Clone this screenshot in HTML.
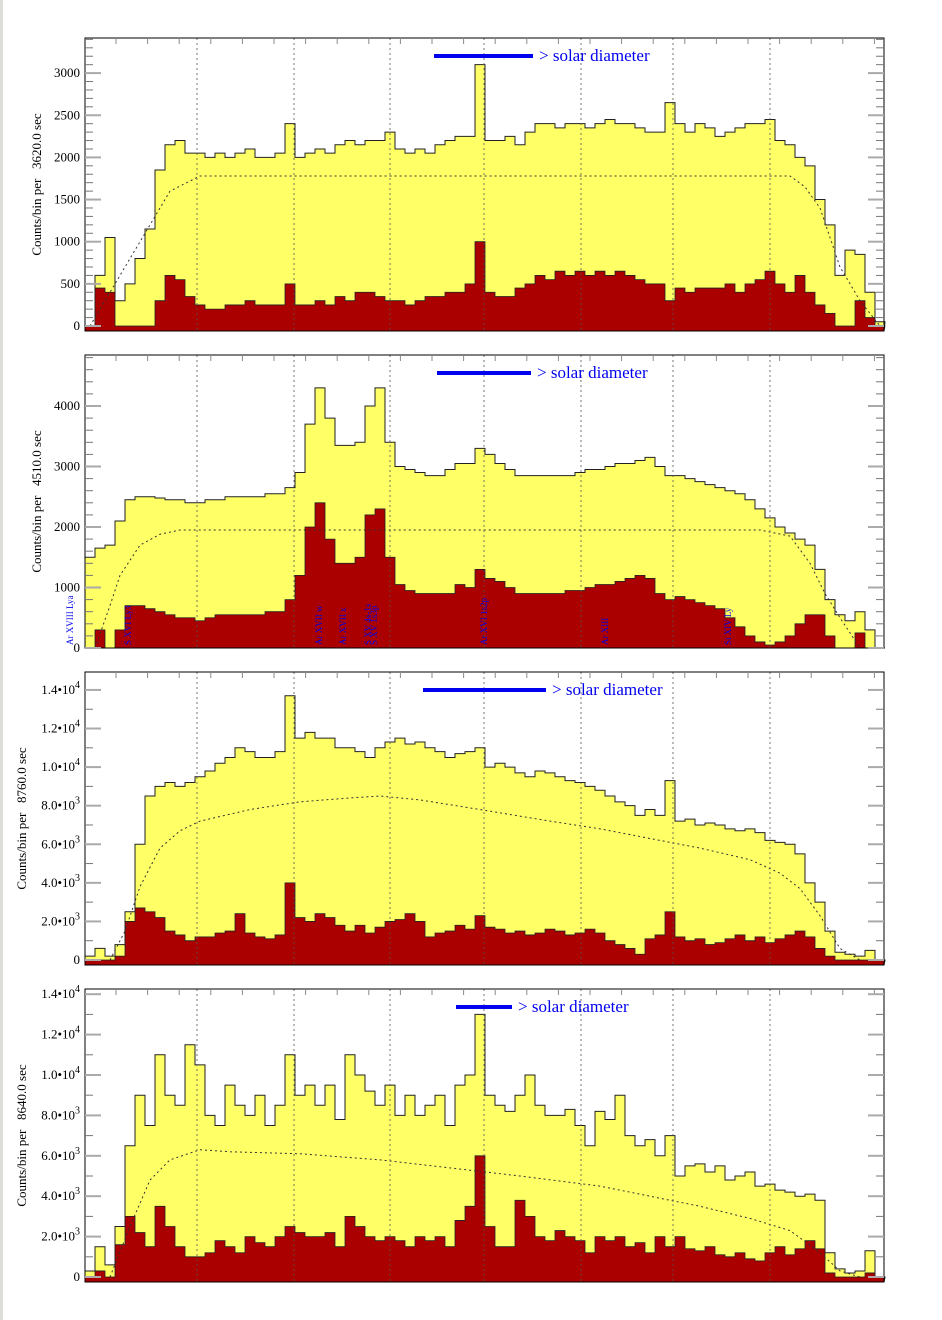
<!DOCTYPE html>
<html><head><meta charset="utf-8"><style>
body{margin:0;background:#fff;width:942px;height:1320px;overflow:hidden}
svg{display:block}
</style></head><body>
<svg id="chart" width="942" height="1320" xmlns="http://www.w3.org/2000/svg" font-family="'Liberation Serif', serif">
<rect x="0" y="0" width="3" height="1320" fill="#dcdcd8"/>
</svg>
<script>
// ---- data ----
const binStart = 85, binWidth = 10; // bin layout
const yellow1 = [0,600,1050,300,500,800,1150,1850,2150,2200,2050,2050,2000,2050,2000,2050,2100,2000,2000,2050,2400,2000,2050,2100,2050,2150,2200,2150,2200,2200,2300,2100,2050,2100,2050,2150,2200,2250,2250,3100,2200,2200,2250,2150,2300,2400,2400,2350,2400,2400,2350,2400,2450,2400,2400,2350,2300,2300,2650,2400,2300,2400,2350,2250,2300,2350,2400,2400,2450,2200,2150,2000,1900,1500,1200,600,900,850,400,50];
const red1 = [0,450,400,0,0,0,0,300,600,550,350,250,200,200,250,250,300,250,250,250,500,250,250,300,250,350,300,400,400,350,300,300,250,300,350,350,400,400,500,1000,400,350,350,450,500,600,550,650,600,650,600,650,600,650,600,550,500,500,300,450,400,450,450,450,500,400,500,550,650,500,400,600,400,250,150,0,0,300,100,0];
const dotX1 = [90,105,120,135,150,170,200,790,805,820,840,860,880];
const dotY1 = [0,300,600,900,1200,1600,1780,1780,1650,1400,700,300,0];
const yellow2 = [1500,1650,1700,2100,2450,2500,2500,2480,2450,2450,2400,2400,2450,2450,2500,2500,2500,2500,2550,2550,2650,2900,3700,4300,3800,3350,3350,3400,4000,4300,3400,3000,2950,2900,2850,2850,2950,3050,3050,3300,3200,3050,2950,2850,2850,2850,2850,2850,2850,2900,2950,2950,3000,3050,3050,3100,3150,3000,2850,2850,2800,2750,2700,2650,2600,2550,2450,2300,2150,2000,1900,1800,1700,1300,800,550,450,600,300,0];
const red2 = [0,300,0,300,700,700,650,600,550,500,500,450,500,550,550,550,550,550,600,600,800,1200,2000,2400,1800,1400,1400,1500,2200,2300,1500,1050,950,900,900,900,900,1050,1000,1300,1150,1100,1000,900,900,900,900,900,950,950,1000,1050,1050,1100,1150,1200,1150,900,800,850,800,750,700,650,500,350,200,100,50,100,200,400,550,550,200,0,0,250,0,0];
const dotX2 = [95,110,120,140,160,180,760,790,810,825,840,860];
const dotY2 = [0,700,1200,1700,1880,1950,1950,1850,1400,900,500,0];
const yellow3 = [200,600,200,800,2500,6000,8500,9000,9200,9000,9200,9500,9800,10200,10500,11000,10800,10500,10500,10800,13700,11500,11800,11500,11500,11000,11000,10800,10500,11000,11300,11500,11200,11300,11000,10800,10500,10700,10800,11000,10000,10200,10000,9700,9500,9800,9700,9500,9300,9200,9000,8800,8500,8200,8000,7500,7800,7500,9300,7200,7300,7000,7100,7000,6800,6700,6800,6600,6200,6100,6000,5500,4000,3000,1500,400,300,200,500,0];
const red3 = [0,0,0,200,2000,2700,2500,2200,1500,1300,1000,1200,1200,1400,1500,2400,1400,1200,1100,1300,4000,2200,2000,2400,2200,1800,1500,1800,1400,1700,2000,2100,2400,2000,1200,1400,1500,1800,1600,2300,1700,1600,1400,1500,1300,1400,1600,1500,1300,1400,1600,1400,1000,800,600,300,1100,1300,2500,1200,1000,1100,800,900,1100,1300,1000,1200,900,1100,1300,1500,1200,600,200,0,0,0,0,0];
const dotX3 = [110,125,140,160,180,200,250,300,350,380,420,480,550,600,650,700,750,780,800,820,840,860];
const dotY3 = [0,1500,3800,5800,6700,7200,7800,8200,8400,8500,8300,7800,7200,6800,6300,5800,5200,4500,3700,2300,600,0];
const yellow4 = [300,1500,600,2500,6500,9000,7500,11000,9000,8500,11500,10500,8000,7500,9500,8500,8000,9000,7500,8500,11000,9000,9500,8500,9500,7800,11000,10000,9200,8500,9500,8000,9000,8000,8500,9000,7500,9500,10000,13000,9000,8500,8200,9000,10000,8500,8000,8000,8300,7500,6500,8200,7800,9000,7000,6500,6800,6000,7000,5000,5500,5600,5200,5500,4800,5000,5200,4500,4600,4300,4200,4000,4100,3800,1200,400,200,300,1300,0];
const red4 = [0,300,0,1600,3000,2200,1500,3500,2500,1500,1000,1000,1200,1800,1500,1200,2000,1700,1500,2000,2500,2200,2000,2000,2200,1500,3000,2500,2000,1800,2000,1800,1500,2000,1800,2000,1500,2800,3500,6000,2500,1500,1500,3800,3000,2000,1800,2300,2000,1800,1200,2000,1800,2000,1500,1700,1200,2000,1500,2000,1400,1300,1500,1100,1000,1200,900,800,1200,1500,1100,1400,1800,1400,200,0,0,0,200,0];
const dotX4 = [110,130,150,170,200,230,300,380,450,520,600,650,700,750,790,820,840,860];
const dotY4 = [0,2500,4800,5800,6300,6200,6100,5800,5400,5000,4500,4000,3500,2900,2300,1200,300,0];
const vlines = [197,294,390,484,581,673,770];
const exposures = ["3620.0","4510.0","8760.0","8640.0"];
const ticks1 = [0,500,1000,1500,2000,2500,3000];
const ticks2 = [0,1000,2000,3000,4000];
const ticks3 = [0,2000,4000,6000,8000,10000,12000,14000];
const lineLabels = ["Ar XVIII Lya","S XVI Ly3","Ar XVII w","Ar XVII x","S XV 4s-1s","S XV 1s3p","Ar XVI 1s2p","Ar XIII","Si XIV Ly"];
const lineLabelX = [70,128,319,343,368,374,484,605,728];

const panels = [
 {top:38,bot:331,zero:326,scale:0.0843,y:yellow1,r:red1,dx:dotX1,dy:dotY1,ticks:ticks1,minor:100,sd:[434,533,56],exp:exposures[0]},
 {top:355,bot:648,zero:648,scale:0.0605,y:yellow2,r:red2,dx:dotX2,dy:dotY2,ticks:ticks2,minor:200,sd:[437,531,373],exp:exposures[1]},
 {top:672,bot:965,zero:960,scale:0.01929,y:yellow3,r:red3,dx:dotX3,dy:dotY3,ticks:ticks3,minor:1000,sd:[423,546,690],exp:exposures[2],sci:true},
 {top:989,bot:1282,zero:1277,scale:0.0202,y:yellow4,r:red4,dx:dotX4,dy:dotY4,ticks:ticks3,minor:1000,sd:[456,512,1007],exp:exposures[3],sci:true}
];
const NS="http://www.w3.org/2000/svg";
const svg=document.getElementById('chart');
function mk(tag,attrs,parent){const e=document.createElementNS(NS,tag);for(const k in attrs)e.setAttribute(k,attrs[k]);(parent||svg).appendChild(e);return e;}
const X0=85,X1=884;
panels.forEach((p,pi)=>{
  const g=mk('g',{});
  
  
  const yS=v=>Math.max(p.top,Math.min(p.bot,p.zero-v*p.scale));
  function stepPath(arr){
    let d='M'+binStart+','+p.bot;
    arr.forEach((v,i)=>{const x=binStart+i*binWidth;const y=yS(v);d+=' L'+x+','+y+' L'+(x+binWidth)+','+y;});
    return d;
  }
  const n=p.y.length, xe=binStart+n*binWidth;
  const yp=mk('path',{d:stepPath(p.y)+' L'+Math.min(xe,X1)+','+p.bot+' Z',fill:'#ffff66',stroke:'#222','stroke-width':1},g);
  
  
  const rp=mk('path',{d:stepPath(p.r)+' L'+Math.min(xe,X1)+','+p.bot+' Z',fill:'#aa0000',stroke:'#222','stroke-width':0.8},g);
  
  
  let dd='';p.dx.forEach((x,i)=>{dd+=(i?' L':'M')+x+','+yS(p.dy[i]);});
  const dl=mk('path',{d:dd,fill:'none',stroke:'#333','stroke-width':1,'stroke-dasharray':'2,3'},g);
  
  
  vlines.forEach(x=>{const l=mk('line',{x1:x,x2:x,y1:p.top,y2:p.bot,stroke:'#555','stroke-width':0.8,'stroke-dasharray':'2,3'},g);
    
    });
  const box=mk('rect',{x:X0,y:p.top,width:X1-X0,height:p.bot-p.top,fill:'none',stroke:'#000','stroke-width':1},g);
  
  
  for(let x=116;x<X1;x+=31.6){mk('line',{x1:x,x2:x,y1:p.top,y2:p.top+6,stroke:'#888','stroke-width':1},g);}
  const maxV=(p.zero-p.top)/p.scale;
  for(let v=0;v<=maxV;v+=p.minor){const y=p.zero-v*p.scale;
    mk('line',{x1:X0,x2:X0+8,y1:y,y2:y,stroke:'#777','stroke-width':1},g);
    mk('line',{x1:X1-8,x2:X1,y1:y,y2:y,stroke:'#777','stroke-width':1},g);}
  p.ticks.forEach(t=>{const y=p.zero-t*p.scale;
    mk('line',{x1:X0,x2:X0+16,y1:y,y2:y,stroke:'#aaa','stroke-width':2},g);
    mk('line',{x1:X1-16,x2:X1,y1:y,y2:y,stroke:'#aaa','stroke-width':2},g);
    const tx=mk('text',{x:80,y:y+4,'text-anchor':'end','font-size':13,fill:'#000'},g);
    
    
    if(p.sci&&t>0){const e=t>=10000?4:3;const m=(t/Math.pow(10,e)).toFixed(1);tx.textContent=m+'•10';const s=mk('tspan',{dy:-6,'font-size':10},tx);s.textContent=String(e);}
    else tx.textContent=String(t);
  });
  const cy=(p.top+p.bot)/2;
  const yt=mk('text',{x:0,y:0,transform:'translate('+(p.sci?26:41)+','+cy+') rotate(-90)','text-anchor':'middle','font-size':13,fill:'#000'},g);
  
  
  yt.textContent='Counts/bin per\u00a0\u00a0\u00a0'+p.exp+' sec';
  const sl=mk('line',{x1:p.sd[0],x2:p.sd[1],y1:p.sd[2],y2:p.sd[2],stroke:'#0000ee','stroke-width':4},g);
  
  
  const st=mk('text',{x:p.sd[1]+6,y:p.sd[2]+5,'font-size':17,fill:'#0000ee'},g);
  
  
  st.textContent='> solar diameter';
  if(pi===1){lineLabels.forEach((s,i)=>{const t=mk('text',{x:0,y:0,transform:'translate('+(lineLabelX[i]+3)+',645) rotate(-90)','font-size':9,fill:'#0000ee'},g);
    
    
    t.textContent=s;});}
});
</script>
</body></html>
